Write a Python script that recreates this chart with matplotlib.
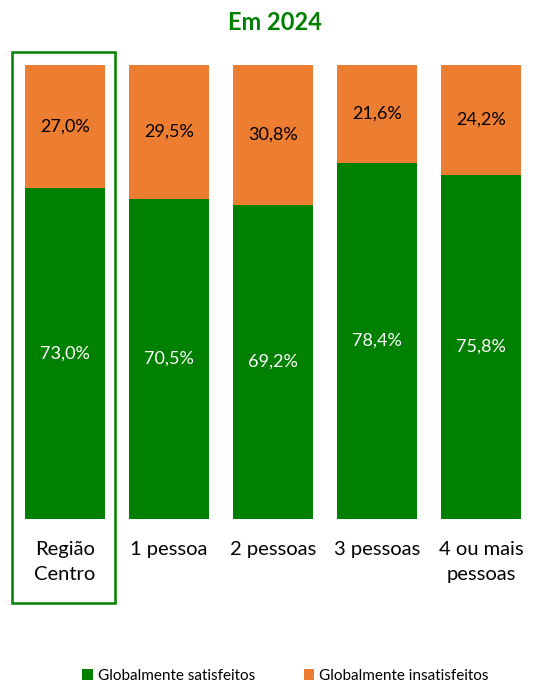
import matplotlib.pyplot as plt
from matplotlib.patches import Rectangle

plt.rcParams['font.family'] = ['Lato', 'DejaVu Sans']

categories = ['Região\nCentro', '1 pessoa', '2 pessoas', '3 pessoas', '4 ou mais\npessoas']
satisfeitos = [73.0, 70.5, 69.2, 78.4, 75.8]
insatisfeitos = [27.0, 29.5, 30.8, 21.6, 24.2]

green = '#008000'
orange = '#ED7D31'


def fmt(v):
    return f'{v:.1f}%'.replace('.', ',')


fig = plt.figure(figsize=(5.49, 6.82), dpi=100)
ax = fig.add_axes([13 / 549, 163 / 682, 520 / 549, 454 / 682])

x = range(len(categories))
b1 = ax.bar(x, satisfeitos, width=0.77, color=green, label='Globalmente satisfeitos')
b2 = ax.bar(x, insatisfeitos, width=0.77, bottom=satisfeitos, color=orange,
            label='Globalmente insatisfeitos')

for i, (s, n) in enumerate(zip(satisfeitos, insatisfeitos)):
    ax.text(i, s / 2, fmt(s), ha='center', va='center', color='white', fontsize=13)
    ax.text(i, s + n / 2, fmt(n), ha='center', va='center', color='black', fontsize=13)

ax.set_xlim(-0.5, 4.5)
ax.set_ylim(0, 100)
ax.set_xticks(list(x))
ax.set_xticklabels(categories, fontsize=14.5, linespacing=1.55)
ax.tick_params(axis='x', length=0, pad=16)
ax.set_yticks([])
for s in ax.spines.values():
    s.set_visible(False)

# highlight box around the region bar
ax.add_patch(Rectangle((-0.51, -18.5), 0.99, 121.4, fill=False, edgecolor=green,
                       linewidth=1.8, clip_on=False))

fig.text(0.5, 1 - 22 / 682, 'Em 2024', ha='center', va='center', color=green,
         fontsize=17, fontweight='bold')

fig.legend(handles=[b1, b2], loc='center', bbox_to_anchor=(0.52, 1 - 676 / 682),
           ncol=2, frameon=False, fontsize=11, handlelength=0.7, handleheight=0.7,
           handletextpad=0.3, columnspacing=3.2)

fig.savefig('out.png', dpi=100)
